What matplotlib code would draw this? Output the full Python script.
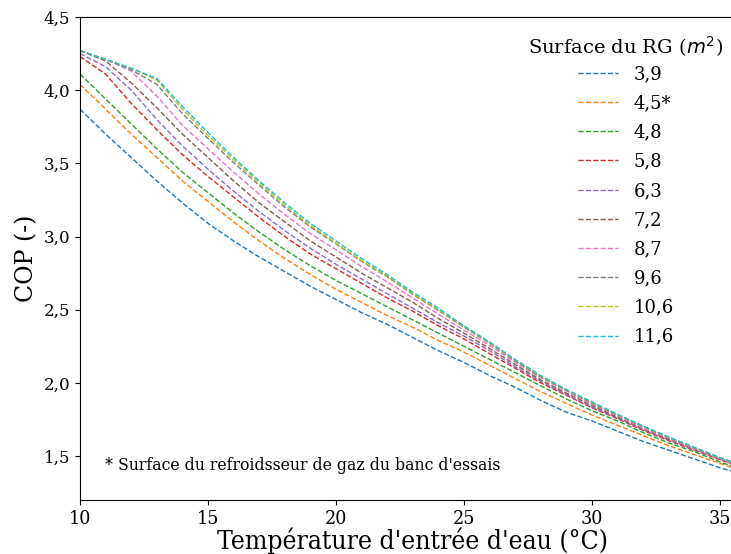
import matplotlib
matplotlib.use("Agg")
import matplotlib.pyplot as plt
from matplotlib.ticker import FuncFormatter

plt.rcParams['font.family'] = ['DejaVu Serif']
plt.rcParams['mathtext.fontset'] = 'dejavusans'

temperature = [10, 11, 12, 13, 14, 15, 16, 17, 18, 19, 20, 21, 22, 23,
               24, 25, 26, 27, 28, 29, 30, 31, 32, 33, 34, 35, 36]

surfaces = ["3,9", "4,5*", "4,8", "5,8", "6,3", "7,2", "8,7", "9,6", "10,6", "11,6"]

cop_3_9 = [3.87, 3.70, 3.54, 3.38, 3.23, 3.09, 2.97, 2.86, 2.76, 2.66, 2.57, 2.48, 2.40, 2.31,
           2.22, 2.14, 2.05, 1.97, 1.88, 1.80, 1.74, 1.67, 1.60, 1.54, 1.48, 1.42, 1.37]
cop_4_5 = [4.04, 3.87, 3.70, 3.54, 3.38, 3.24, 3.10, 2.97, 2.85, 2.74, 2.64, 2.55, 2.46, 2.38,
           2.29, 2.21, 2.12, 2.03, 1.94, 1.86, 1.78, 1.71, 1.64, 1.57, 1.51, 1.45, 1.39]
cop_4_8 = [4.11, 3.94, 3.77, 3.60, 3.44, 3.30, 3.16, 3.03, 2.91, 2.80, 2.70, 2.61, 2.52, 2.43,
           2.34, 2.25, 2.16, 2.07, 1.98, 1.89, 1.81, 1.74, 1.66, 1.59, 1.53, 1.46, 1.40]
cop_5_8 = [4.23, 4.11, 3.91, 3.73, 3.56, 3.41, 3.27, 3.13, 3.00, 2.88, 2.78, 2.68, 2.58, 2.49,
           2.39, 2.30, 2.20, 2.10, 2.00, 1.915, 1.83, 1.755, 1.675, 1.605, 1.54, 1.475, 1.415]
cop_6_3 = [4.25, 4.16, 4.00, 3.80, 3.62, 3.46, 3.31, 3.17, 3.04, 2.92, 2.81, 2.71, 2.61, 2.51,
           2.41, 2.32, 2.22, 2.11, 2.01, 1.92, 1.835, 1.76, 1.68, 1.61, 1.545, 1.478, 1.42]
cop_7_2 = [4.27, 4.20, 4.05, 3.88, 3.70, 3.54, 3.38, 3.23, 3.10, 2.97, 2.86, 2.75, 2.65, 2.55,
           2.44, 2.34, 2.235, 2.125, 2.02, 1.93, 1.845, 1.765, 1.685, 1.615, 1.55, 1.48, 1.42]
cop_8_7 = [4.27, 4.21, 4.13, 3.96, 3.76, 3.60, 3.44, 3.29, 3.15, 3.02, 2.91, 2.795, 2.69, 2.58,
           2.47, 2.36, 2.255, 2.14, 2.035, 1.945, 1.855, 1.775, 1.69, 1.62, 1.55, 1.48, 1.42]
cop_9_6 = [4.27, 4.21, 4.14, 4.04, 3.84, 3.67, 3.505, 3.35, 3.20, 3.065, 2.95, 2.83, 2.725, 2.605,
           2.495, 2.38, 2.27, 2.15, 2.04, 1.95, 1.86, 1.78, 1.70, 1.625, 1.555, 1.485, 1.425]
cop_10_6 = [4.27, 4.21, 4.15, 4.07, 3.87, 3.69, 3.525, 3.365, 3.215, 3.075, 2.955, 2.835, 2.73, 2.61,
            2.50, 2.385, 2.275, 2.155, 2.045, 1.952, 1.865, 1.782, 1.702, 1.628, 1.558, 1.488, 1.428]
cop_11_6 = [4.27, 4.21, 4.15, 4.08, 3.89, 3.71, 3.54, 3.38, 3.23, 3.09, 2.97, 2.85, 2.74, 2.62,
            2.51, 2.39, 2.28, 2.16, 2.05, 1.955, 1.87, 1.785, 1.705, 1.63, 1.56, 1.49, 1.43]

series = [cop_3_9, cop_4_5, cop_4_8, cop_5_8, cop_6_3, cop_7_2, cop_8_7, cop_9_6, cop_10_6, cop_11_6]

W, H = 731, 554
fig = plt.figure(figsize=(W / 100, H / 100), dpi=100)
ax = fig.add_axes([80 / W, 54 / H, 665.6 / W, 483 / H])

for vals, lab in zip(series, surfaces):
    ax.plot(temperature, vals, linestyle='--', linewidth=1.0, label=lab)

ax.set_xlim(10, 36)
ax.set_ylim(1.2, 4.5)
ax.set_xticks([10, 15, 20, 25, 30, 35])
ax.set_yticks([1.5, 2.0, 2.5, 3.0, 3.5, 4.0, 4.5])
ax.yaxis.set_major_formatter(FuncFormatter(lambda v, p: f"{v:.1f}".replace('.', ',')))
for t in ax.get_xticklabels():
    t.set_fontsize(14)
    t.set_fontstretch('condensed')
ax.tick_params(axis='y', labelsize=12)

fig.text(412 / W, (H - 541) / H, "Température d'entrée d'eau (°C)",
         fontsize=19, fontstretch='condensed', ha='center', va='center')
ax.set_ylabel("COP (-)", fontsize=17, labelpad=4)

fig.text(105 / W, (H - 466) / H, "* Surface du refroidsseur de gaz du banc d'essais",
         fontsize=11.35, va='center', ha='left')

leg = ax.legend(title="Surface du RG ($m^2$)", frameon=False, fontsize=13,
                title_fontsize=14, loc='upper center',
                bbox_to_anchor=(626 / W, (H - 18) / H), bbox_transform=fig.transFigure,
                handlelength=2.2, handletextpad=0.9, labelspacing=0.62)
leg._legend_box.sep = 4.4

fig.savefig("out.png", dpi=100)
